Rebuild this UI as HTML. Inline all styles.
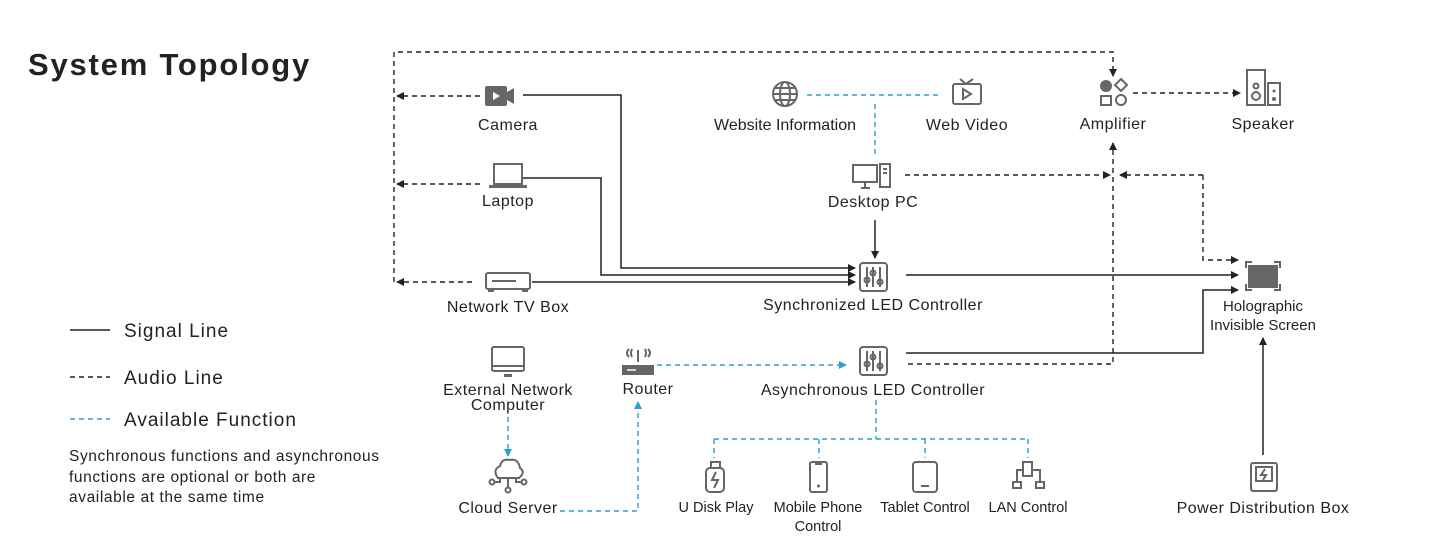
<!DOCTYPE html>
<html><head><meta charset="utf-8"><style>
html,body{margin:0;padding:0;background:#fff;}
svg{display:block;font-family:"Liberation Sans",sans-serif;}
text{fill:#222;font-size:16px;letter-spacing:0.5px;}
.c{text-anchor:middle;}
.s{stroke:#222;stroke-width:1.5;fill:none;}
.d{stroke:#222;stroke-width:1.4;fill:none;stroke-dasharray:5 4;}
.b{stroke:#2a9fd6;stroke-width:1.4;fill:none;stroke-dasharray:5 4;}
.i{stroke:#666;stroke-width:2;fill:none;}
.f{fill:#666;}
</style></head><body>
<svg width="1429" height="557" viewBox="0 0 1429 557">
<defs>
<marker id="a" markerWidth="8" markerHeight="8" refX="7" refY="4" orient="auto" markerUnits="userSpaceOnUse"><path d="M0,0 L8,4 L0,8z" fill="#222"/></marker>
<marker id="ab" markerWidth="8" markerHeight="8" refX="7" refY="4" orient="auto" markerUnits="userSpaceOnUse"><path d="M0,0 L8,4 L0,8z" fill="#2a9fd6"/></marker>
</defs>
<text x="28" y="75" style="font-size:31px;font-weight:bold;letter-spacing:1.8px" fill="#222">System Topology</text>

<!-- legend -->
<line x1="70" y1="330" x2="110" y2="330" class="s"/><text x="124" y="337" style="font-size:19px;letter-spacing:1px">Signal Line</text>
<line x1="70" y1="377" x2="110" y2="377" class="d"/><text x="124" y="384" style="font-size:19px;letter-spacing:1px">Audio Line</text>
<line x1="70" y1="419" x2="110" y2="419" class="b"/><text x="124" y="426" style="font-size:19px;letter-spacing:1px">Available Function</text>
<text x="69" y="461" style="font-size:15.5px;letter-spacing:0.6px">Synchronous functions and asynchronous</text>
<text x="69" y="482" style="font-size:15.5px;letter-spacing:0.6px">functions are optional or both are</text>
<text x="69" y="502" style="font-size:15.5px;letter-spacing:0.6px">available at the same time</text>

<!-- audio outer -->
<path d="M394,282 V52 H1113 V76" class="d" marker-end="url(#a)"/>
<line x1="480" y1="96" x2="397" y2="96" class="d" marker-end="url(#a)"/>
<line x1="480" y1="184" x2="397" y2="184" class="d" marker-end="url(#a)"/>
<line x1="472" y1="282" x2="397" y2="282" class="d" marker-end="url(#a)"/>

<!-- signal to sync -->
<path d="M523,95 H621 V268 H855" class="s" marker-end="url(#a)"/>
<path d="M522,178 H601 V275 H855" class="s" marker-end="url(#a)"/>
<path d="M532,282 H855" class="s" marker-end="url(#a)"/>
<path d="M875,220 V258" class="s" marker-end="url(#a)"/>

<!-- blue top -->
<line x1="807" y1="95" x2="942" y2="95" class="b"/>
<line x1="875" y1="104" x2="875" y2="155" class="b"/>

<!-- audio right -->
<line x1="1133" y1="93" x2="1240" y2="93" class="d" marker-end="url(#a)"/>
<line x1="905" y1="175" x2="1110" y2="175" class="d" marker-end="url(#a)"/>
<path d="M908,364 H1113 V143" class="d" marker-end="url(#a)"/>
<path d="M1203,175 H1120" class="d" marker-end="url(#a)"/>
<path d="M1203,175 V260 H1238" class="d" marker-end="url(#a)"/>

<!-- signal right -->
<line x1="906" y1="275" x2="1238" y2="275" class="s" marker-end="url(#a)"/>
<path d="M906,353 H1203 V290 H1238" class="s" marker-end="url(#a)"/>
<line x1="1263" y1="455" x2="1263" y2="338" class="s" marker-end="url(#a)"/>

<!-- blue bottom -->
<line x1="657" y1="365" x2="846" y2="365" class="b" marker-end="url(#ab)"/>
<line x1="508" y1="417" x2="508" y2="456" class="b" marker-end="url(#ab)"/>
<path d="M560,511 H638 V402" class="b" marker-end="url(#ab)"/>
<path d="M876,400 V439 M714,439 H1028 M714,439 V458 M819,439 V458 M925,439 V458 M1028,439 V458" class="b"/>

<!-- camera -->
<rect x="485" y="86" width="22" height="20" rx="2" class="f"/><path d="M507,92 L514,88 V104 L507,100z" class="f"/><path d="M493,92 L500,96 L493,100z" fill="#fff"/>
<!-- laptop -->
<rect x="494" y="164" width="28" height="20" class="i"/><rect x="489" y="185" width="38" height="3" class="f"/>
<!-- tv box -->
<rect x="486" y="273" width="44" height="16" rx="2" class="i"/><rect x="488" y="289" width="6" height="3" class="f"/><rect x="522" y="289" width="6" height="3" class="f"/><line x1="492" y1="281" x2="516" y2="281" class="i"/>
<!-- globe -->
<circle cx="785" cy="94" r="12" class="i"/><ellipse cx="785" cy="94" rx="5" ry="12" class="i"/><path d="M773,94 H797 M775,88 H795 M775,100 H795" class="i" stroke-width="1.5"/>
<!-- web video -->
<rect x="953" y="84" width="28" height="20" rx="2" class="i"/><path d="M960,79 L966,84 L973,79" class="i"/><path d="M963,89 L971,94 L963,99z" class="i" stroke-width="1.5"/>
<!-- desktop -->
<rect x="853" y="165" width="24" height="17" class="i"/><path d="M861,188 H870 M865,182 V188" class="i"/><rect x="880" y="164" width="10" height="23" class="i"/><rect x="883" y="168" width="4" height="2" class="f"/><rect x="883" y="172" width="4" height="2" class="f"/>
<!-- amplifier -->
<circle cx="1106" cy="86" r="6" class="f"/><path d="M1121,79 L1127,85 L1121,91 L1115,85z" class="i"/><rect x="1101" y="96" width="10" height="9" class="i"/><circle cx="1121" cy="100" r="5" class="i"/>
<!-- speaker -->
<rect x="1247" y="70" width="18" height="35" class="i"/><circle cx="1256" cy="86" r="2.5" class="i" stroke-width="1.5"/><circle cx="1256" cy="96" r="4" class="i"/><rect x="1268" y="83" width="12" height="22" class="i"/><circle cx="1274" cy="91" r="1.5" class="f"/><circle cx="1274" cy="99" r="2" class="f"/>
<!-- controllers -->
<g id="ctl"><rect x="860" y="263" width="27" height="28" rx="3" class="i"/><path d="M867,267 V287 M873,267 V287 M880,267 V287" class="i" stroke-width="1.5"/><circle cx="867" cy="280" r="2.5" fill="#fff" class="i" stroke-width="1.5"/><circle cx="873" cy="273" r="2.5" fill="#fff" class="i" stroke-width="1.5"/><circle cx="880" cy="282" r="2.5" fill="#fff" class="i" stroke-width="1.5"/></g>
<use href="#ctl" transform="translate(0,84)"/>
<!-- holo screen -->
<rect x="1248" y="265" width="30" height="23" class="f"/><path d="M1246,268 V262 H1252 M1274,262 H1280 V268 M1280,284 V290 H1274 M1252,290 H1246 V284" class="i" stroke-width="1.5"/>
<!-- power box -->
<rect x="1251" y="463" width="26" height="28" rx="2" class="i"/><rect x="1256" y="467" width="16" height="14" class="i" stroke-width="1.5"/><path d="M1265,469 L1261,475 H1266 L1263,480" class="i" stroke-width="1.3"/>
<!-- ext computer -->
<rect x="492" y="347" width="32" height="24" rx="2" class="i"/><line x1="492" y1="366" x2="524" y2="366" class="i"/><rect x="504" y="374" width="8" height="3" class="f"/>
<!-- router -->
<rect x="622" y="365" width="32" height="10" class="f"/><path d="M629,357 Q625,353 629,349 M632,357 Q630,353 632,349 M648,357 Q652,353 648,349 M645,357 Q647,353 645,349 M638,350 V362" class="i" stroke-width="1.5"/><path d="M627,370 H636" stroke="#fff" stroke-width="1.5"/>
<!-- cloud -->
<path d="M498,478 Q492,470 500,466 Q502,458 510,460 Q518,458 520,468 Q526,472 519,478z" class="i" stroke-width="1.6"/><path d="M508,478 V488 M500,478 V482 H494 M516,478 V482 H522" class="i" stroke-width="1.5"/><circle cx="508" cy="490" r="2.5" fill="#fff" class="i" stroke-width="1.5"/><circle cx="492" cy="482" r="2.5" fill="#fff" class="i" stroke-width="1.5"/><circle cx="524" cy="482" r="2.5" fill="#fff" class="i" stroke-width="1.5"/>
<!-- usb -->
<rect x="711" y="462" width="9" height="6" class="i" stroke-width="1.5"/><rect x="706" y="468" width="18" height="24" rx="4" class="i"/><path d="M716,472 L712,480 H718 L714,488" class="i" stroke-width="1.5"/>
<!-- phone -->
<rect x="810" y="462" width="17" height="30" rx="2" class="i"/><circle cx="818.5" cy="486" r="1.5" class="f"/><line x1="815" y1="464" x2="822" y2="464" class="i" stroke-width="1.5"/>
<!-- tablet -->
<rect x="913" y="462" width="24" height="30" rx="3" class="i"/><line x1="921" y1="486" x2="929" y2="486" class="i" stroke-width="1.5"/>
<!-- lan -->
<rect x="1023" y="462" width="9" height="14" class="i" stroke-width="1.5"/><path d="M1023,470 H1017 V482 M1032,470 H1040 V482" class="i" stroke-width="1.3"/><rect x="1013" y="482" width="8" height="6" class="i" stroke-width="1.5"/><rect x="1036" y="482" width="8" height="6" class="i" stroke-width="1.5"/>

<!-- labels -->
<text x="508" y="130" class="c">Camera</text>
<text x="508" y="206" class="c">Laptop</text>
<text x="508" y="312" class="c">Network TV Box</text>
<text x="785" y="130" class="c" style="letter-spacing:0">Website Information</text>
<text x="967" y="130" class="c">Web Video</text>
<text x="1113" y="129" class="c">Amplifier</text>
<text x="1263" y="129" class="c">Speaker</text>
<text x="873" y="207" class="c">Desktop PC</text>
<text x="873" y="310" class="c">Synchronized LED Controller</text>
<text x="1263" y="311" class="c" style="font-size:15px;letter-spacing:0">Holographic</text>
<text x="1263" y="330" class="c" style="font-size:15px;letter-spacing:0">Invisible Screen</text>
<text x="508" y="395" class="c">External Network</text>
<text x="508" y="410" class="c">Computer</text>
<text x="648" y="394" class="c">Router</text>
<text x="873" y="395" class="c">Asynchronous LED Controller</text>
<text x="508" y="513" class="c">Cloud Server</text>
<text x="716" y="512" class="c" style="font-size:14.5px;letter-spacing:0">U Disk Play</text>
<text x="818" y="512" class="c" style="font-size:14.5px;letter-spacing:0">Mobile Phone</text>
<text x="818" y="531" class="c" style="font-size:14.5px;letter-spacing:0">Control</text>
<text x="925" y="512" class="c" style="font-size:14.5px;letter-spacing:0">Tablet Control</text>
<text x="1028" y="512" class="c" style="font-size:14.5px;letter-spacing:0">LAN Control</text>
<text x="1263" y="513" class="c">Power Distribution Box</text>
</svg>
</body></html>
